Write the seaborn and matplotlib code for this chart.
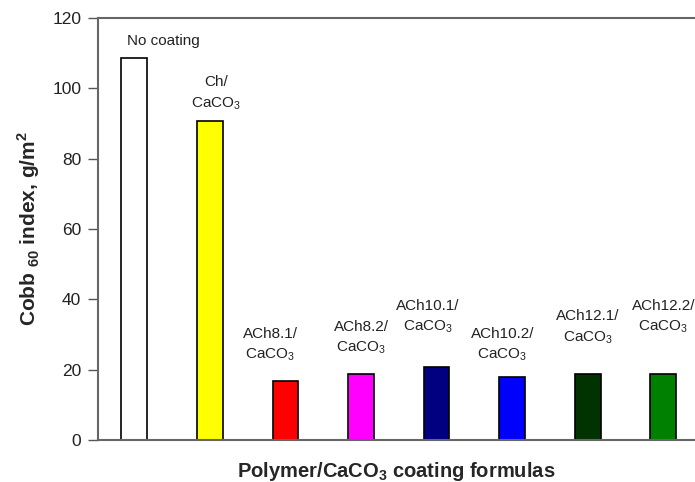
import numpy as np
import pandas as pd
import matplotlib
matplotlib.use('Agg')
import matplotlib.pyplot as plt
import seaborn as sns

# data
formulas = ['No coating', 'Ch', 'ACh8.1', 'ACh8.2', 'ACh10.1', 'ACh10.2', 'ACh12.1', 'ACh12.2']
cobb60 = [108.6, 90.7, 16.8, 18.8, 20.8, 17.9, 18.8, 18.8]
bar_colors = ['#ffffff', '#ffff00', '#ff0000', '#ff00ff', '#000080', '#0000ff', '#003300', '#008000']
bar_labels = ['No coating', 'Ch/\nCaCO$_3$', 'ACh8.1/\nCaCO$_3$', 'ACh8.2/\nCaCO$_3$',
              'ACh10.1/\nCaCO$_3$', 'ACh10.2/\nCaCO$_3$', 'ACh12.1/\nCaCO$_3$', 'ACh12.2/\nCaCO$_3$']
label_x = [0.38, 1.08, 1.80, 3.0, 3.88, 4.87, 6.0, 7.0]
label_y = [113.5, 98.5, 27.0, 29.0, 35.0, 27.0, 32.0, 35.0]

sns.set_style('white')
plt.rcParams['font.family'] = ['Liberation Sans', 'DejaVu Sans']
plt.rcParams['mathtext.fontset'] = 'custom'
plt.rcParams['mathtext.rm'] = 'Liberation Sans'
plt.rcParams['mathtext.bf'] = 'Liberation Sans:bold'

df = pd.DataFrame({'formula': formulas, 'cobb': cobb60})

fig = plt.figure(figsize=(6.95, 4.82), dpi=100)
ax = fig.add_axes([0.141, 0.087, 0.859, 0.876])
sns.barplot(data=df, x='formula', y='cobb', hue='formula', palette=bar_colors,
            saturation=1, width=0.34, edgecolor='black', linewidth=1.2,
            legend=False, ax=ax)

for x, y, t in zip(label_x, label_y, bar_labels):
    ax.text(x, y, t, ha='center', va='center', fontsize=11, color='#222222',
            linespacing=1.45)

ax.set_xlim(-0.48, 7.42)
ax.set_ylim(0, 120)
ax.set_yticks(np.arange(0, 121, 20))
ax.set_xticks([])
ax.tick_params(axis='y', direction='out', length=7, width=1, color='#555555',
               labelsize=12.5, left=True, pad=5, labelcolor='#222222')

for s in ['left', 'bottom', 'top']:
    ax.spines[s].set_color('#666666')
    ax.spines[s].set_linewidth(1.5)
ax.spines['right'].set_visible(False)

ax.set_xlabel(r'Polymer/CaCO$_\mathbf{3}$ coating formulas', fontsize=14.5, fontweight='bold')
ax.xaxis.set_label_coords(0.5, -0.048)
ax.set_ylabel(r'Cobb $_\mathbf{60}$ index, g/m$^\mathbf{2}$', fontsize=15, fontweight='bold')
ax.yaxis.set_label_coords(-0.094, 0.50)

fig.savefig('out.png', dpi=100)
